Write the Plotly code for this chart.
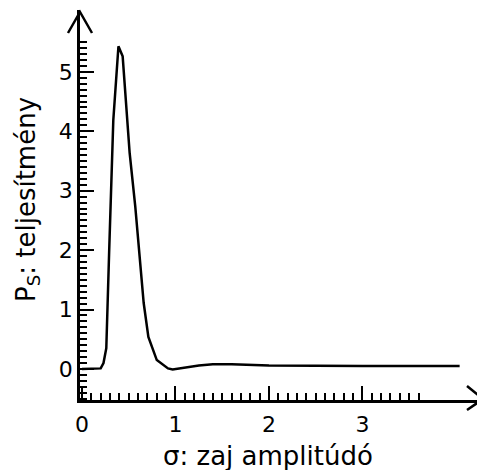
import numpy as np
import plotly.graph_objects as go

# data
sigma = [0.0, 0.10, 0.20, 0.23, 0.26, 0.29, 0.335, 0.39, 0.435, 0.51, 0.57, 0.66, 0.71, 0.80,
         0.92, 0.97, 1.1, 1.25, 1.4, 1.6, 2.0, 2.5, 3.0, 3.5, 4.04]
power = [0.0, 0.0, 0.01, 0.1, 0.35, 1.95, 4.19, 5.43, 5.26, 3.63, 2.73, 1.11, 0.54, 0.15,
         0.01, -0.01, 0.02, 0.06, 0.08, 0.08, 0.06, 0.05, 0.05, 0.05, 0.05]

x_major = [0, 1, 2, 3]
x_labels = ["0", "1", "2", "3"]
y_major = [0, 1, 2, 3, 4, 5]
y_labels = ["0", "1", "2", "3", "4", "5"]
x_title = "σ: zaj amplitúdó"
y_title = "P<sub>S</sub>: teljesítmény"

# the page body has an 8px margin, so the figure is sized/offset to fit the window
W, H = 477, 462
L, R, T, B = 72, 2, 2, 70
FONT = "DejaVu Sans"

fig = go.Figure()
fig.add_trace(go.Scatter(x=sigma, y=power, mode="lines",
                         line=dict(color="black", width=2.5), showlegend=False,
                         hoverinfo="skip"))

x_minor = [round(v, 2) for v in np.arange(0.1, 3.65, 0.1)]
y_minor = [round(v, 2) for v in np.arange(-0.5, 5.55, 0.1)]

fig.update_layout(
    width=W, height=H,
    margin=dict(l=L, r=R, t=T, b=B, autoexpand=False),
    paper_bgcolor="white", plot_bgcolor="white",
    font=dict(family=FONT, size=22, color="black"),
    xaxis=dict(range=[-0.0214, 4.29], showgrid=False, zeroline=False, automargin=False,
               showline=True, linecolor="black", linewidth=2.5,
               tickmode="array", tickvals=x_major, ticktext=x_labels,
               ticks="inside", ticklen=14, tickwidth=2, tickcolor="black",
               minor=dict(tickmode="array", tickvals=x_minor, ticks="inside",
                          ticklen=7, tickwidth=2, tickcolor="black", showgrid=False),
               tickfont=dict(size=22), ticklabelstandoff=3),
    yaxis=dict(range=[-0.522, 6.04], showgrid=False, zeroline=False, automargin=False,
               showline=True, linecolor="black", linewidth=2.5,
               tickmode="array", tickvals=y_major, ticktext=y_labels,
               ticks="inside", ticklen=14, tickwidth=2, tickcolor="black",
               minor=dict(tickmode="array", tickvals=y_minor, ticks="inside",
                          ticklen=7, tickwidth=2, tickcolor="black", showgrid=False),
               tickfont=dict(size=22), ticklabelstandoff=0),
)

def px(xp):
    return (xp - 80) / 403

def py(yp):
    return (400 - yp) / 390

# axis titles
fig.add_annotation(text=x_title, xref="paper", yref="paper", x=px(268), y=py(456),
                   xanchor="center", yanchor="middle", showarrow=False,
                   font=dict(size=26, family=FONT, color="black"))
fig.add_annotation(text=y_title, xref="paper", yref="paper", x=px(27), y=py(200),
                   xanchor="center", yanchor="middle", showarrow=False, textangle=-90,
                   font=dict(size=26, family=FONT, color="black"))

# arrowheads on the axes
fig.add_shape(type="path", xref="paper", yref="paper",
              path=f"M {px(68)} {py(33)} L {px(80)} {py(12)} L {px(92)} {py(33)}",
              line=dict(color="black", width=2.5))
fig.add_shape(type="path", xref="paper", yref="paper",
              path=f"M {px(467)} {py(386)} L {px(483)} {py(399)} L {px(467)} {py(410)}",
              line=dict(color="black", width=2.5))

fig.write_html("out.html")
